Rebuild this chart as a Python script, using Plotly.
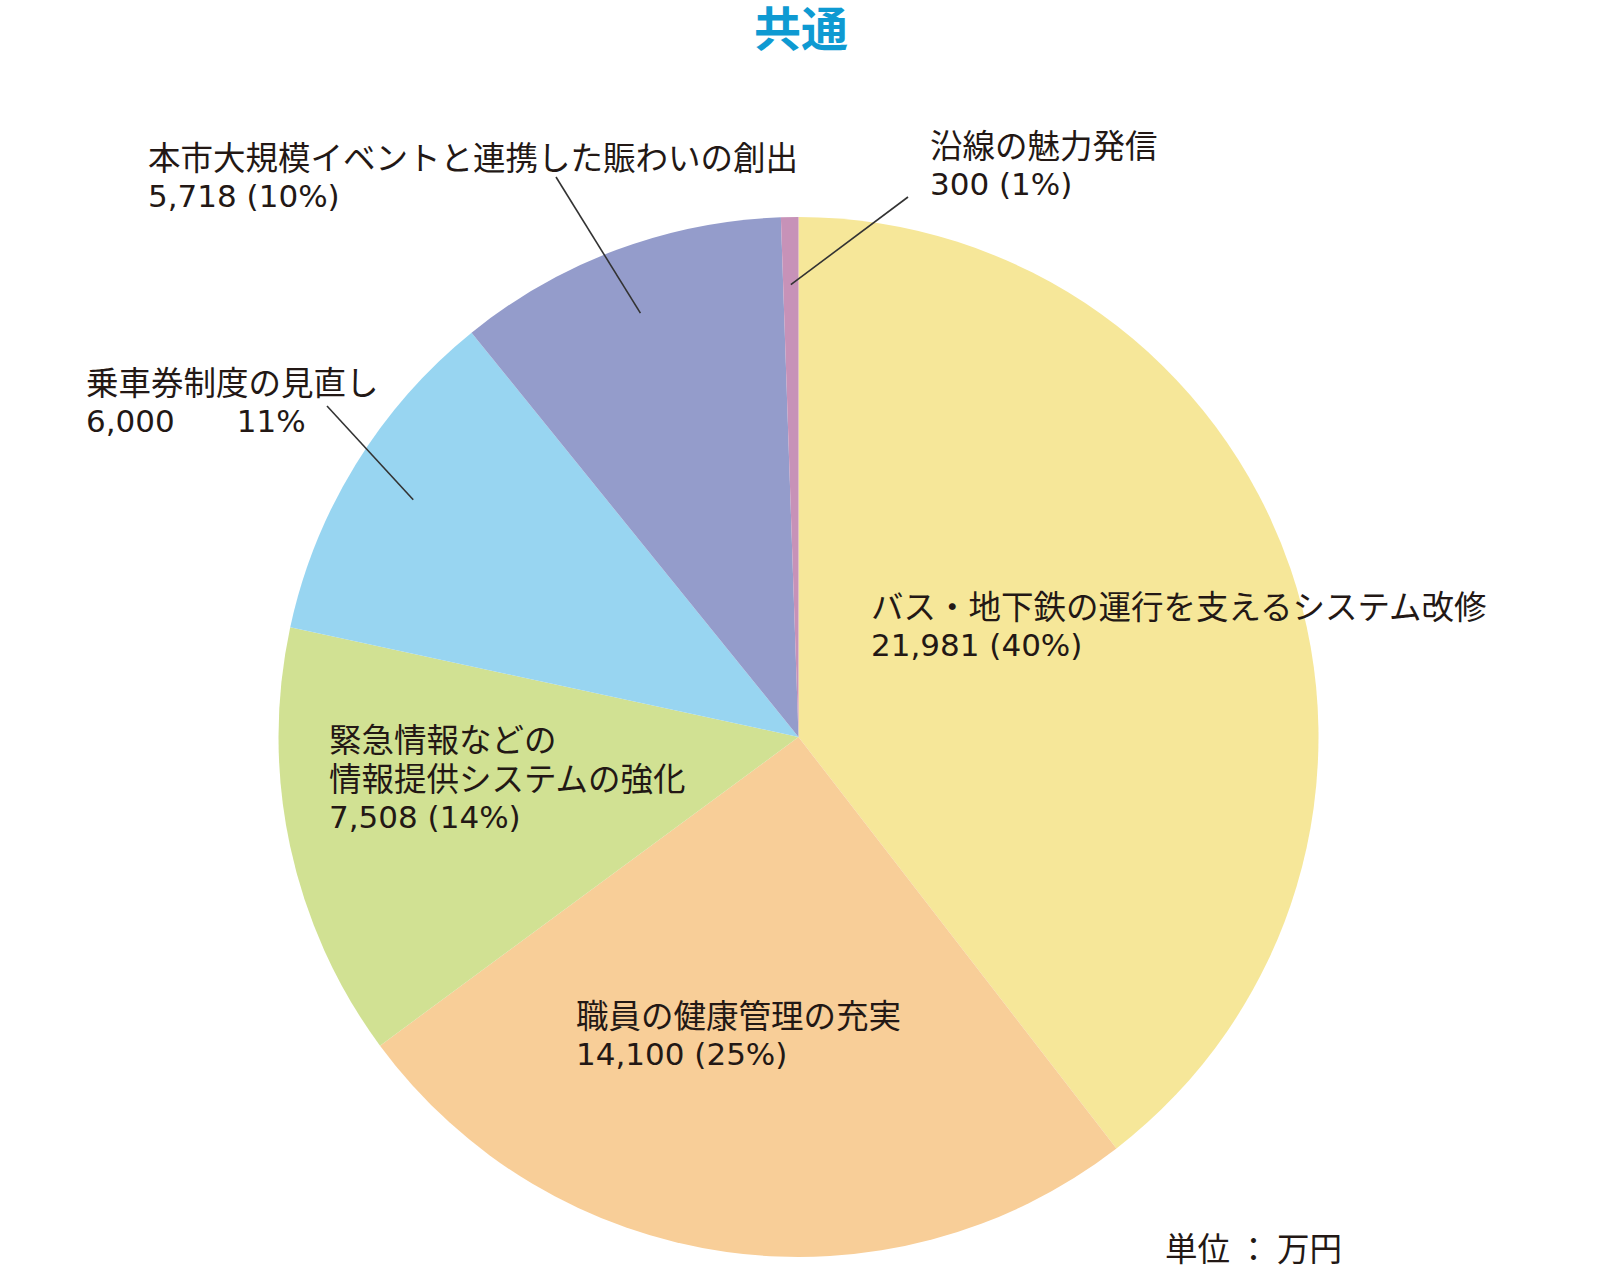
import math
import plotly.graph_objects as go

# 共通 budget breakdown (unit: 万円)
categories = [
    "バス・地下鉄の運行を支えるシステム改修",
    "職員の健康管理の充実",
    "緊急情報などの|情報提供システムの強化",
    "乗車券制度の見直し",
    "本市大規模イベントと連携した賑わいの創出",
    "沿線の魅力発信",
]
amounts = [21981, 14100, 7508, 6000, 5718, 300]
pct_labels = ["40%", "25%", "14%", "11%", "10%", "1%"]

colors = ["#f6e799", "#f8ce98", "#d1e193", "#98d5f1", "#949ccb", "#c792b8"]
TEXT = "#231815"
FONT = "Noto Sans CJK JP"
NUM_FONT = "DejaVu Sans, Noto Sans CJK JP"

# body margin is removed in the page (see post_script), so figure fills the window
W, H = 1600, 1266

# pie geometry in window pixels
CX, CY, R = 798.5, 737, 520

# label placement: left x, centre y of first line (window pixels)
label_pos = [(869, 604), (574, 1013), (327, 737), (84, 380), (146, 155), (928, 143)]
# leader lines: start point near the label, end goes into the slice
leader_start = {3: (327, 406), 4: (556, 177), 5: (908, 197)}
LINE_STEP = 39.5
FS = 32.5


def px(x):
    return min(1, max(0, x / W))


def py(y):
    return min(1, max(0, 1 - y / H))


fig = go.Figure(go.Pie(
    labels=[c.replace("|", "") for c in categories],
    values=amounts,
    sort=False,
    direction="clockwise",
    rotation=0,
    marker=dict(colors=colors, line=dict(width=0)),
    textinfo="none",
    hoverinfo="label+value+percent",
    domain=dict(x=[px(CX - R), px(CX + R)], y=[py(CY + R), py(CY - R)]),
))

total = sum(amounts)
cum = 0
for i, (name, v, p) in enumerate(zip(categories, amounts, pct_labels)):
    lines = name.split("|")
    if i == 3:
        num = f"{v:,}\u3000\u3000{p}"
    else:
        num = f"{v:,} ({p})"
    lx, ly = label_pos[i]
    for k, t in enumerate(lines):
        fig.add_annotation(
            xref="paper", yref="paper", x=px(lx), y=py(ly + k * LINE_STEP),
            xanchor="left", yanchor="middle", text=t, showarrow=False,
            font=dict(family=FONT, size=FS, color=TEXT),
        )
    fig.add_annotation(
        xref="paper", yref="paper", x=px(lx), y=py(ly + len(lines) * LINE_STEP + 1),
        xanchor="left", yanchor="middle", text=num, showarrow=False,
        font=dict(family=NUM_FONT, size=31, color=TEXT),
    )

    mid = (cum + v / 2) / total * 2 * math.pi
    cum += v
    if i in leader_start:
        sx, sy = leader_start[i]
        ex = CX + 0.87 * R * math.sin(mid)
        ey = CY - 0.87 * R * math.cos(mid)
        fig.add_shape(type="line", xref="paper", yref="paper",
                      x0=px(sx), y0=py(sy), x1=px(ex), y1=py(ey),
                      line=dict(color="#333333", width=1.6))

fig.add_annotation(
    xref="paper", yref="paper", x=px(801), y=py(25), xanchor="center", yanchor="middle",
    text="<b>共通</b>", showarrow=False,
    font=dict(family=FONT, size=47, color="#0e9ad2"),
)
fig.add_annotation(
    xref="paper", yref="paper", x=px(1163), y=py(1246), xanchor="left", yanchor="middle",
    text="単位 ： 万円", showarrow=False,
    font=dict(family=FONT, size=FS, color=TEXT),
)

fig.update_layout(
    width=W, height=H,
    margin=dict(l=0, r=0, t=0, b=0),
    showlegend=False,
    paper_bgcolor="white",
    plot_bgcolor="white",
)

fig.write_html("out.html", config={"displayModeBar": False},
               post_script="document.body.style.margin='0';document.body.style.overflow='hidden';")
